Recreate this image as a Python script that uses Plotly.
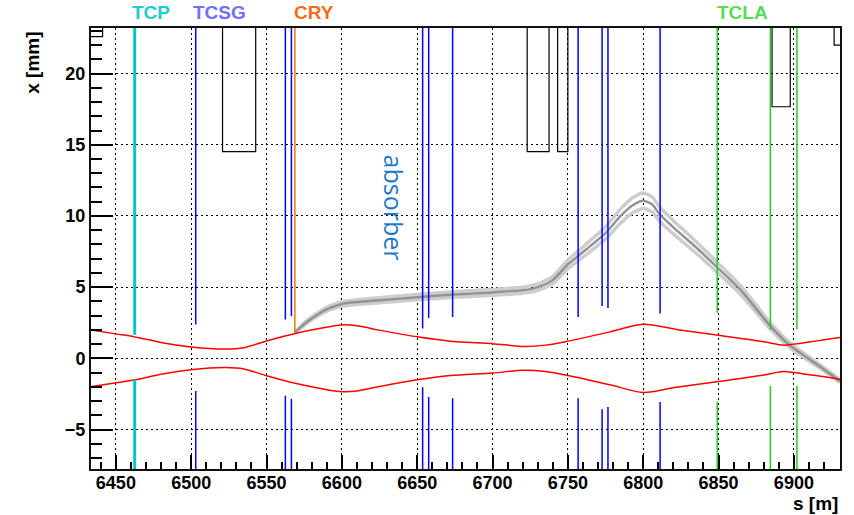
import plotly.graph_objects as go

# ---------------- data ----------------
# beam envelope (upper half and lower half, mm)
env_s = [6433.5, 6450, 6462, 6480, 6500, 6523, 6535, 6550, 6569, 6585, 6600, 6612, 6624,
         6650, 6672, 6700, 6721, 6735, 6750, 6778, 6800, 6822, 6850, 6880, 6893, 6900, 6930.6]
env_up = [2.0, 1.72, 1.52, 1.12, 0.8, 0.65, 0.75, 1.22, 1.75, 2.1, 2.35, 2.25, 2.0,
          1.51, 1.21, 1.03, 0.84, 0.93, 1.21, 1.86, 2.4, 2.03, 1.63, 1.17, 0.93, 1.0, 1.47]
env_dn = [-2.0, -1.72, -1.52, -1.12, -0.8, -0.65, -0.75, -1.22, -1.75, -2.1, -2.35, -2.25, -2.0,
          -1.51, -1.21, -1.03, -0.84, -0.93, -1.21, -1.86, -2.4, -2.03, -1.63, -1.17, -0.93, -1.0, -1.47]

# channelled-particle trajectory from the crystal (centre and outer lines)
traj_s = [6568.8, 6575, 6580, 6585, 6590, 6595, 6600, 6610, 6625, 6650, 6675, 6700, 6720, 6730,
          6740, 6750, 6757, 6765, 6775, 6785, 6793, 6800, 6806, 6811, 6820, 6835, 6850, 6865,
          6885, 6898, 6915, 6930.6]
traj_mid = [1.82, 2.4, 2.8, 3.15, 3.45, 3.65, 3.82, 3.95, 4.08, 4.3, 4.48, 4.63, 4.78, 5.0,
            5.5, 6.6, 7.2, 7.9, 8.8, 10.0, 10.75, 11.07, 10.8, 10.1, 9.2, 7.8, 6.3, 4.75,
            2.2, 0.86, -0.4, -1.6]
traj_hi = [1.82, 2.5, 2.92, 3.28, 3.59, 3.8, 3.98, 4.12, 4.26, 4.49, 4.68, 4.84, 5.0, 5.23,
           5.76, 6.9, 7.54, 8.29, 9.23, 10.5, 11.28, 11.62, 11.33, 10.6, 9.67, 8.2, 6.65, 5.05,
           2.42, 1.04, -0.27, -1.5]
traj_lo = [1.82, 2.32, 2.7, 3.03, 3.32, 3.51, 3.67, 3.79, 3.91, 4.12, 4.29, 4.43, 4.57, 4.78,
           5.25, 6.3, 6.87, 7.52, 8.38, 9.5, 10.23, 10.52, 10.28, 9.6, 8.74, 7.4, 5.95, 4.45,
           1.98, 0.68, -0.53, -1.7]

# collimators: position, upper jaw, lower jaw (None = single-sided), family
coll_s = [6462.5, 6503.0, 6562.5, 6566.5, 6568.8, 6653.6, 6657.6, 6673.5, 6756.8, 6772.7,
          6776.6, 6811.2, 6849.1, 6884.4, 6902.0]
coll_up = [1.65, 2.38, 2.73, 2.96, 1.82, 2.1, 2.84, 2.91, 2.91, 3.68, 3.54, 3.15, 3.2, 2.03, 2.07]
coll_dn = [-1.5, -2.29, -2.62, -2.85, None, -2.03, -2.71, -2.8, -2.8, -3.57, -3.41, -3.06,
           -3.06, -1.94, -1.94]
coll_type = ["TCP", "TCSG", "TCSG", "TCSG", "CRY", "TCSG", "TCSG", "TCSG", "TCSG", "TCSG",
             "TCSG", "TCSG", "TCLA", "TCLA", "TCLA"]

# aperture elements (drawn from the top down to their edge)
box_start = [6420.0, 6520.8, 6723.0, 6743.2, 6885.5, 6926.7]
box_end = [6441.2, 6542.8, 6737.5, 6750.0, 6897.6, 6945.0]
box_edge = [22.6, 14.52, 14.52, 14.52, 17.67, 22.0]

# family labels above the frame
label_text = ["TCP", "TCSG", "CRY", "TCLA"]
label_s = [6473.0, 6519.0, 6581.5, 6866.0]

x_ticks = [6450, 6500, 6550, 6600, 6650, 6700, 6750, 6800, 6850, 6900]
y_ticks = [-5, 0, 5, 10, 15, 20]

# ---------------- styles ----------------
fam_color = {"TCP": "#00c8c8", "TCSG": "#0000ff", "CRY": "#ff6a1a", "TCLA": "#22cc22"}
fam_width = {"TCP": 3, "TCSG": 1.5, "CRY": 1.5, "TCLA": 1.5}
label_color = {"TCP": "#22cccc", "TCSG": "#7070f8", "CRY": "#ff6a1a", "TCLA": "#55dd55"}

TOP, BOT = 40, -20
fig = go.Figure()

# aperture boxes
bx, by = [], []
for a, b, e in zip(box_start, box_end, box_edge):
    bx += [a, a, b, b, None]
    by += [TOP, e, e, TOP, None]
fig.add_trace(go.Scatter(x=bx, y=by, mode="lines", line=dict(color="black", width=1.2),
                         hoverinfo="skip", showlegend=False))

# trajectory
for ys, col, w in [(traj_hi, "#cdcdcd", 3.5), (traj_lo, "#cdcdcd", 3.5), (traj_mid, "#939393", 2.5)]:
    fig.add_trace(go.Scatter(x=traj_s, y=ys, mode="lines",
                             line=dict(color=col, width=w, shape="spline", smoothing=0.6),
                             showlegend=False))

# envelope
for ys in (env_up, env_dn):
    fig.add_trace(go.Scatter(x=env_s, y=ys, mode="lines",
                             line=dict(color="#ff0000", width=1.5, shape="spline", smoothing=0.8),
                             showlegend=False))

# collimators
for fam in ["TCP", "TCSG", "CRY", "TCLA"]:
    xs, ys = [], []
    for s, u, d, t in zip(coll_s, coll_up, coll_dn, coll_type):
        if t != fam:
            continue
        xs += [s, s, None]
        ys += [TOP, u, None]
        if d is not None:
            xs += [s, s, None]
            ys += [d, BOT, None]
    fig.add_trace(go.Scatter(x=xs, y=ys, mode="lines",
                             line=dict(color=fam_color[fam], width=fam_width[fam]),
                             showlegend=False))

# labels
for t, s in zip(label_text, label_s):
    fig.add_annotation(x=s, xref="x", y=1, yref="paper", yanchor="bottom", yshift=3,
                       text=t, showarrow=False,
                       font=dict(family="Liberation Sans", size=19, weight="bold",
                                 color=label_color[t]))

fig.add_annotation(x=6634.9, xref="x", y=10.56, yref="y", text="absorber", textangle=90,
                   showarrow=False, font=dict(family="Open Sans", size=25, color="#1f78c8"))

fig.add_annotation(x=-0.078, xref="paper", y=0.995, yref="paper", text="x [mm]",
                   textangle=-90, showarrow=False, xanchor="center", yanchor="top",
                   font=dict(family="Liberation Sans", size=19, weight="bold", color="black"))
fig.add_annotation(x=1.0, xref="paper", y=-0.079, yref="paper", text="s [m]",
                   showarrow=False, xanchor="right", yanchor="middle",
                   font=dict(family="Liberation Sans", size=19, weight="bold", color="black"))

axis_common = dict(showline=True, linecolor="#111", linewidth=2, mirror=True,
                   showgrid=True, gridcolor="black", gridwidth=1, griddash="1.5px,3.5px",
                   zeroline=False, ticks="inside", tickcolor="black",
                   tickfont=dict(family="Liberation Sans", size=18, weight="bold", color="black"))

fig.update_xaxes(range=[6433.5, 6930.6], tickvals=x_ticks, ticklen=14, tickwidth=1.5,
                 ticklabelstandoff=-4,
                 minor=dict(ticks="inside", ticklen=7, dtick=10, tick0=6450, tickcolor="black",
                            showgrid=False),
                 **axis_common)
fig.update_yaxes(range=[-7.77, 23.2], tickvals=y_ticks, ticklen=22, tickwidth=1.5,
                 minor=dict(ticks="inside", ticklen=11, dtick=1, tick0=0, tickcolor="black",
                            showgrid=False),
                 **axis_common)

fig.update_layout(width=854, height=515, margin=dict(l=91, r=12, t=28, b=46),
                  plot_bgcolor="white", paper_bgcolor="white", showlegend=False)

fig.write_html("out.html", config={"displayModeBar": False},
               post_script="document.body.style.margin='0';document.body.style.overflow='hidden';")
